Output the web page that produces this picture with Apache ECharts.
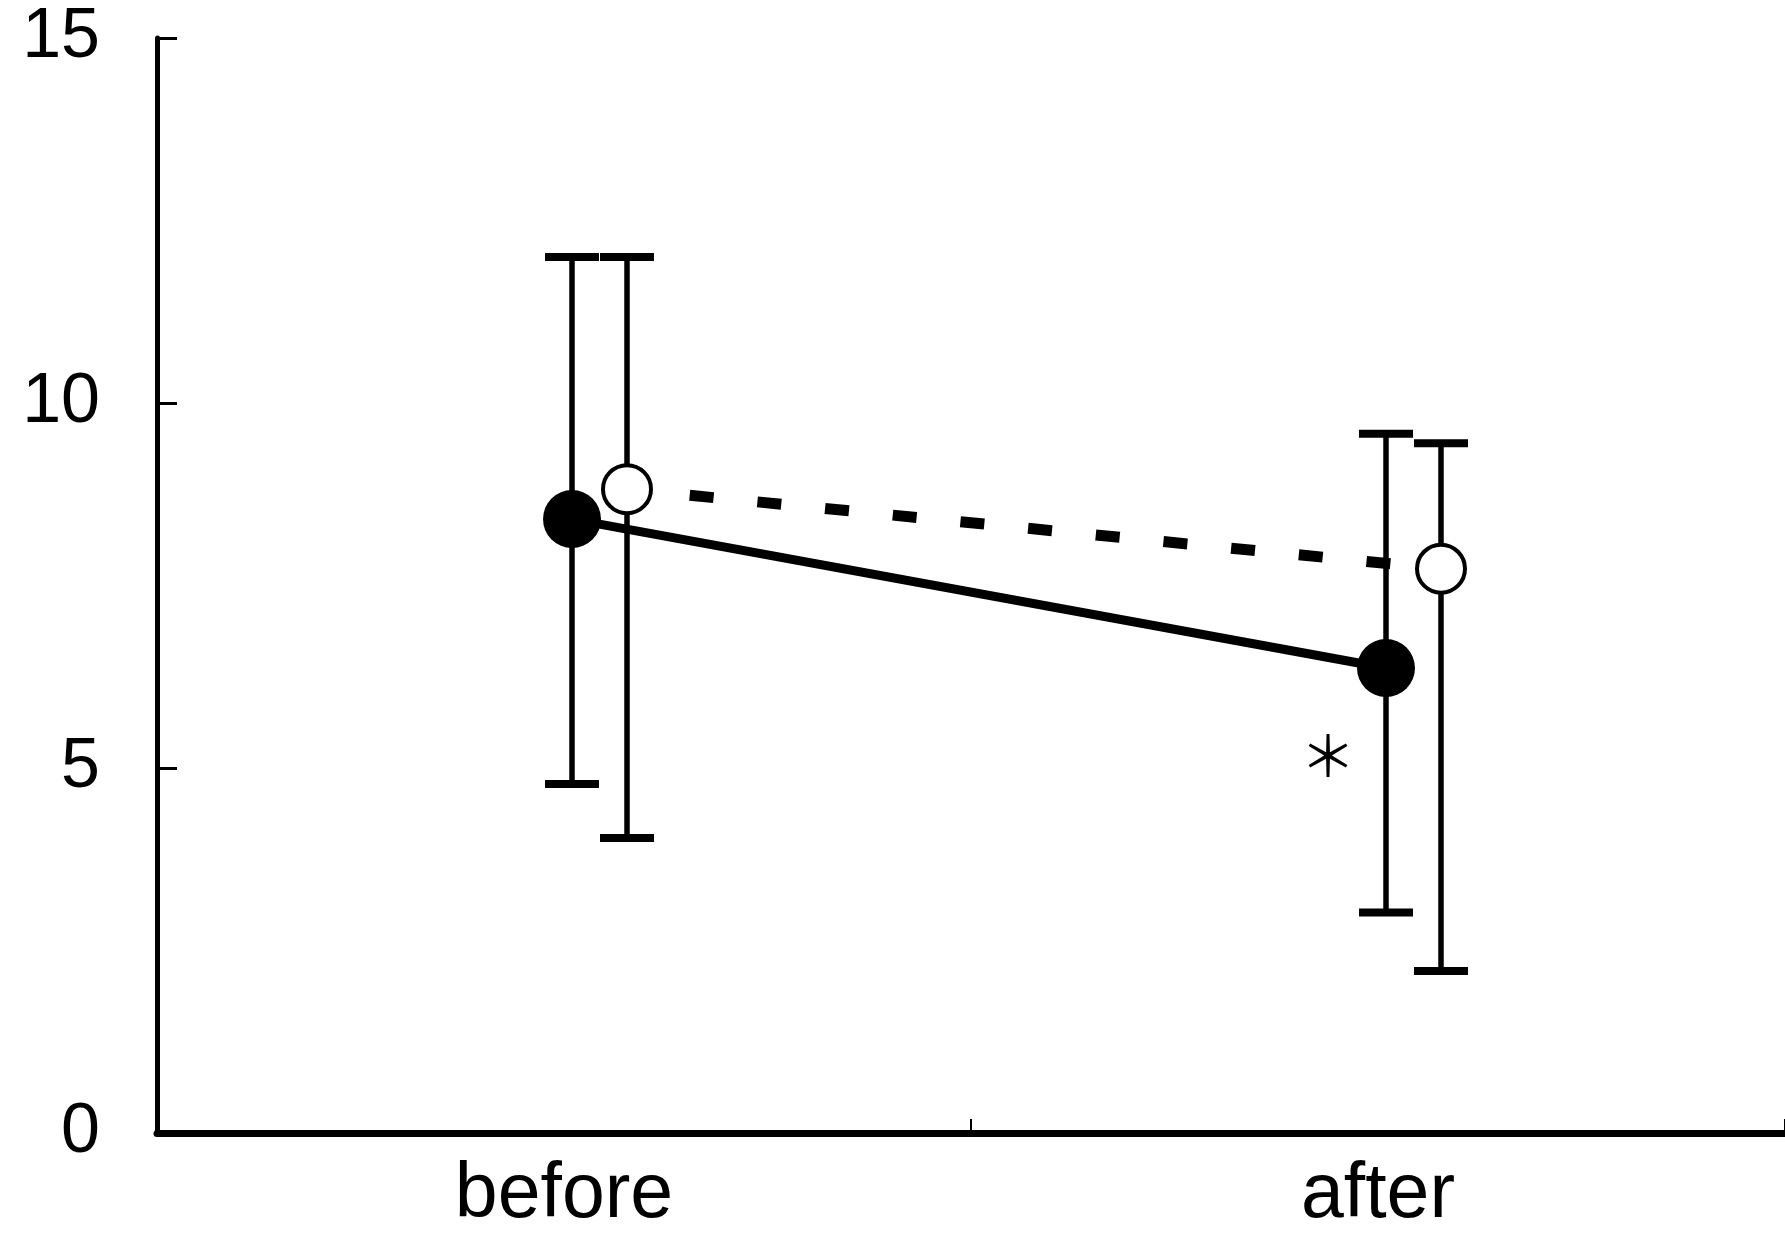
<!DOCTYPE html>
<html>
<head>
<meta charset="utf-8">
<script src="https://cdn.jsdelivr.net/npm/echarts@6/dist/echarts.min.js"></script>
<style>
html,body{margin:0;padding:0;background:#fff;}
#chart{width:1785px;height:1234px;}
</style>
</head>
<body>
<div id="chart"></div>
<script>
// ---- data ----
var categories = ['before', 'after'];
var yTicks = [0, 5, 10, 15];
var filledMean = [8.41, 6.37];
var filledLow  = [4.78, 3.02];
var filledHigh = [12.0, 9.58];
var openMean   = [8.82, 7.73];
var openLow    = [4.04, 2.22];
var openHigh   = [12.0, 9.45];
var markCategory = [1];
var markValue    = [5.17];
var markText     = ['＊'];

// ---- styles ----
var FILLED_OFFSET = 8;
var OPEN_OFFSET = 63;
var MARK_OFFSET = -50;

function lineRenderer(means, offset, dashed) {
  return function (params, api) {
    if (params.dataIndex !== 0) return null;
    var pts = means.map(function (v, i) {
      var c = api.coord([i, v]);
      return [c[0] + offset, c[1]];
    });
    var style = { stroke: '#000', lineWidth: dashed ? 11 : 9, fill: null, lineCap: 'butt' };
    if (dashed) { style.lineDash = [24, 44]; style.lineDashOffset = 5; }
    return { type: 'polyline', shape: { points: pts }, style: style, silent: true };
  };
}

function barRenderer(offset, filled) {
  return function (params, api) {
    var i = api.value(0);
    var cm = api.coord([i, api.value(1)]);
    var cl = api.coord([i, api.value(2)]);
    var ch = api.coord([i, api.value(3)]);
    var x = cm[0] + offset;
    var cap = 27;
    var children = [
      { type: 'line', shape: { x1: x, y1: ch[1], x2: x, y2: cl[1] }, style: { stroke: '#000', lineWidth: 5.5 } },
      { type: 'line', shape: { x1: x - cap, y1: ch[1], x2: x + cap, y2: ch[1] }, style: { stroke: '#000', lineWidth: 8 } },
      { type: 'line', shape: { x1: x - cap, y1: cl[1], x2: x + cap, y2: cl[1] }, style: { stroke: '#000', lineWidth: 8 } },
      filled
        ? { type: 'circle', shape: { cx: x, cy: cm[1], r: 29 }, style: { fill: '#000', stroke: null } }
        : { type: 'circle', shape: { cx: x, cy: cm[1], r: 24 }, style: { fill: '#fff', stroke: '#000', lineWidth: 4 } }
    ];
    return { type: 'group', children: children, silent: true };
  };
}

var chart = echarts.init(document.getElementById('chart'), null, { renderer: 'canvas' });
chart.setOption({
  animation: false,
  backgroundColor: '#fff',
  grid: { left: 157, right: 0, top: 38, bottom: 93, containLabel: false },
  xAxis: {
    type: 'category',
    data: categories,
    boundaryGap: true,
    axisLine: { show: true, lineStyle: { color: '#000', width: 7 } },
    axisTick: { show: true, inside: true, length: 14, lineStyle: { color: '#000', width: 2 } },
    axisLabel: { color: '#000', fontSize: 77, fontFamily: 'Liberation Sans', margin: 24 },
    splitLine: { show: false }
  },
  yAxis: {
    type: 'value',
    min: yTicks[0],
    max: yTicks[yTicks.length - 1],
    interval: yTicks[1] - yTicks[0],
    axisLine: { show: true, lineStyle: { color: '#000', width: 5 } },
    axisTick: { show: true, inside: true, length: 20, lineStyle: { color: '#000', width: 3 } },
    axisLabel: { color: '#000', fontSize: 70, fontFamily: 'Liberation Sans', margin: 57 },
    splitLine: { show: false }
  },
  series: [
    { type: 'custom', name: 'filled line', data: filledMean.map(function (v, i) { return [i, v]; }),
      renderItem: lineRenderer(filledMean, FILLED_OFFSET, false), z: 2 },
    { type: 'custom', name: 'open line', data: openMean.map(function (v, i) { return [i, v]; }),
      renderItem: lineRenderer(openMean, OPEN_OFFSET, true), z: 2 },
    { type: 'custom', name: 'filled', data: filledMean.map(function (v, i) { return [i, v, filledLow[i], filledHigh[i]]; }),
      renderItem: barRenderer(FILLED_OFFSET, true), z: 3 },
    { type: 'custom', name: 'open', data: openMean.map(function (v, i) { return [i, v, openLow[i], openHigh[i]]; }),
      renderItem: barRenderer(OPEN_OFFSET, false), z: 3 },
    { type: 'custom', name: 'mark', data: markValue.map(function (v, i) { return [markCategory[i], v]; }),
      renderItem: function (params, api) {
        var c = api.coord([api.value(0), api.value(1)]);
        return { type: 'text', x: c[0] + MARK_OFFSET, y: c[1],
          style: { text: markText[params.dataIndex], fill: '#000', fontSize: 56,
                   fontFamily: 'Noto Sans CJK JP', align: 'center', verticalAlign: 'middle' }, silent: true };
      }, z: 4 }
  ]
});
</script>
</body>
</html>
